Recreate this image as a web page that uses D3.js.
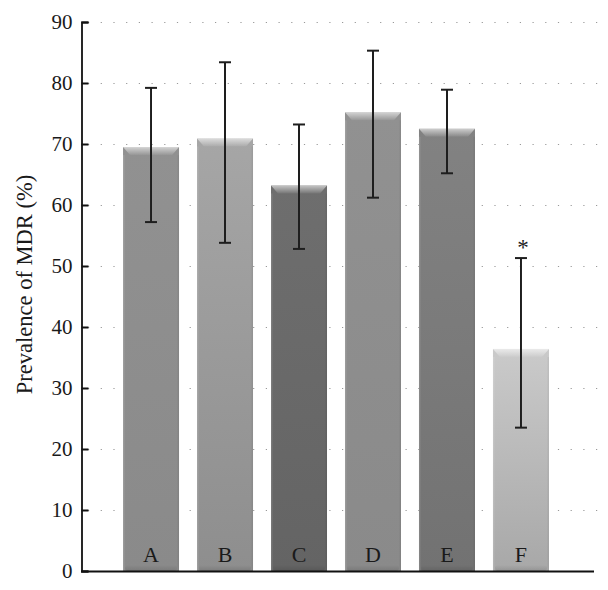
<!DOCTYPE html>
<html>
<head>
<meta charset="utf-8">
<script src="https://cdn.jsdelivr.net/npm/d3@7/dist/d3.min.js"></script>
<style>
  html, body { margin: 0; padding: 0; background: #fff; }
  svg { display: block; }
  text { font-family: "Liberation Serif", "DejaVu Serif", serif; }
</style>
</head>
<body>
<svg id="chart" width="608" height="590"></svg>
<script>
// ---- data ----
const categories = ["A", "B", "C", "D", "E", "F"];
const prevalence = [69.5, 70.9, 63.2, 75.2, 72.5, 36.4];
const errLow = [57.2, 53.8, 52.8, 61.2, 65.2, 23.5];
const errHigh = [79.2, 83.4, 73.2, 85.3, 78.9, 51.3];
const significant = [false, false, false, false, false, true];
const yTicks = [0, 10, 20, 30, 40, 50, 60, 70, 80, 90];
const yTitle = "Prevalence of MDR (%)";

// ---- styles ----
const barTop = ["#919191", "#a6a6a6", "#6e6e6e", "#919191", "#828282", "#cacaca"];
const barBottom = ["#8a8a8a", "#8e8e8e", "#646464", "#8a8a8a", "#727272", "#a8a8a8"];

const svg = d3.select("#chart");
const x = d3.scaleBand().domain(categories).range([81, 591]).paddingInner(0.243).paddingOuter(0.568);
const y = d3.scaleLinear().domain([0, 90]).range([571, 22]);

const defs = svg.append("defs");
categories.forEach((c, i) => {
  const g = defs.append("linearGradient").attr("id", "g" + i)
    .attr("x1", 0).attr("y1", 0).attr("x2", 0).attr("y2", 1);
  g.append("stop").attr("offset", "0%").attr("stop-color", barTop[i]);
  g.append("stop").attr("offset", "100%").attr("stop-color", barBottom[i]);
});
const hl = defs.append("linearGradient").attr("id", "hl").attr("x1", 0).attr("y1", 0).attr("x2", 0).attr("y2", 1);
hl.append("stop").attr("offset", "0%").attr("stop-color", "#fff").attr("stop-opacity", 0.6);
hl.append("stop").attr("offset", "100%").attr("stop-color", "#fff").attr("stop-opacity", 0.05);
const sh = defs.append("linearGradient").attr("id", "sh").attr("x1", 0).attr("y1", 0).attr("x2", 0).attr("y2", 1);
sh.append("stop").attr("offset", "0%").attr("stop-color", "#000").attr("stop-opacity", 0);
sh.append("stop").attr("offset", "100%").attr("stop-color", "#000").attr("stop-opacity", 0.12);

// grid lines (dotted)
svg.append("g").selectAll("line").data(yTicks.filter(t => t > 0)).join("line")
  .attr("x1", 88).attr("x2", 600)
  .attr("y1", d => y(d) + 0.5).attr("y2", d => y(d) + 0.5)
  .attr("stroke", "#999").attr("stroke-width", 1.2)
  .attr("stroke-dasharray", "1.2 11.5");

// bars
const bars = svg.append("g");
categories.forEach((c, i) => {
  const x0 = x(c), w = x.bandwidth(), yt = y(prevalence[i]), yb = y(0);
  bars.append("rect").attr("x", x0).attr("y", yt).attr("width", w).attr("height", yb - yt)
    .attr("fill", `url(#g${i})`);
  // top bevel highlight
  bars.append("polygon")
    .attr("points", [[x0, yt], [x0 + w, yt], [x0 + w - 7, yt + 8], [x0 + 7, yt + 8]].map(p => p.join(",")).join(" "))
    .attr("fill", "url(#hl)");
  // bottom shadow
  bars.append("rect").attr("x", x0 + 2).attr("y", yb - 6).attr("width", w - 4).attr("height", 6)
    .attr("rx", 3).attr("fill", "url(#sh)");
  // side edges
  bars.append("rect").attr("x", x0).attr("y", yt + 8).attr("width", 1.5).attr("height", yb - yt - 8)
    .attr("fill", "#fff").attr("opacity", 0.12);
  bars.append("rect").attr("x", x0 + w - 1.5).attr("y", yt + 8).attr("width", 1.5).attr("height", yb - yt - 8)
    .attr("fill", "#000").attr("opacity", 0.05);
});

// error bars
const eb = svg.append("g").attr("stroke", "#1e1e1e").attr("stroke-width", 2);
categories.forEach((c, i) => {
  const cx = x(c) + x.bandwidth() / 2;
  eb.append("line").attr("x1", cx).attr("x2", cx).attr("y1", y(errHigh[i])).attr("y2", y(errLow[i]));
  eb.append("line").attr("x1", cx - 6).attr("x2", cx + 6).attr("y1", y(errHigh[i])).attr("y2", y(errHigh[i]));
  eb.append("line").attr("x1", cx - 6).attr("x2", cx + 6).attr("y1", y(errLow[i])).attr("y2", y(errLow[i]));
});

// asterisk
svg.append("g").selectAll("text").data(categories.filter((c, i) => significant[i])).join("text")
  .attr("x", d => x(d) + x.bandwidth() / 2 + 2)
  .attr("y", d => y(errHigh[categories.indexOf(d)]) - 3)
  .attr("text-anchor", "middle").attr("font-size", 23).attr("fill", "#222").text("*");

// category labels inside bars
svg.append("g").selectAll("text").data(categories).join("text")
  .attr("x", d => x(d) + x.bandwidth() / 2)
  .attr("y", 562)
  .attr("text-anchor", "middle").attr("font-size", 22).attr("fill", "#1a1a1a").text(d => d);

// y axis
const yAxis = d3.axisLeft(y).tickValues(yTicks).tickSize(-7).tickPadding(9).tickFormat(d3.format("d"));
const ya = svg.append("g").attr("transform", "translate(81.5,0)").call(yAxis);
ya.select(".domain").attr("stroke", "#111").attr("stroke-width", 1.8);
ya.selectAll(".tick line").attr("stroke", "#111").attr("stroke-width", 2);
ya.selectAll(".tick text").attr("font-size", 21).attr("fill", "#1a1a1a")
  .attr("font-family", "'Liberation Serif', serif");

// x axis baseline
svg.append("line").attr("x1", 81).attr("x2", 594).attr("y1", y(0) + 0.5).attr("y2", y(0) + 0.5)
  .attr("stroke", "#111").attr("stroke-width", 1.8);

// y title
svg.append("text").attr("transform", `translate(32,${(y(0) + y(90)) / 2 - 12}) rotate(-90)`)
  .attr("text-anchor", "middle").attr("font-size", 22.5).attr("fill", "#1a1a1a").text(yTitle);
</script>
</body>
</html>
